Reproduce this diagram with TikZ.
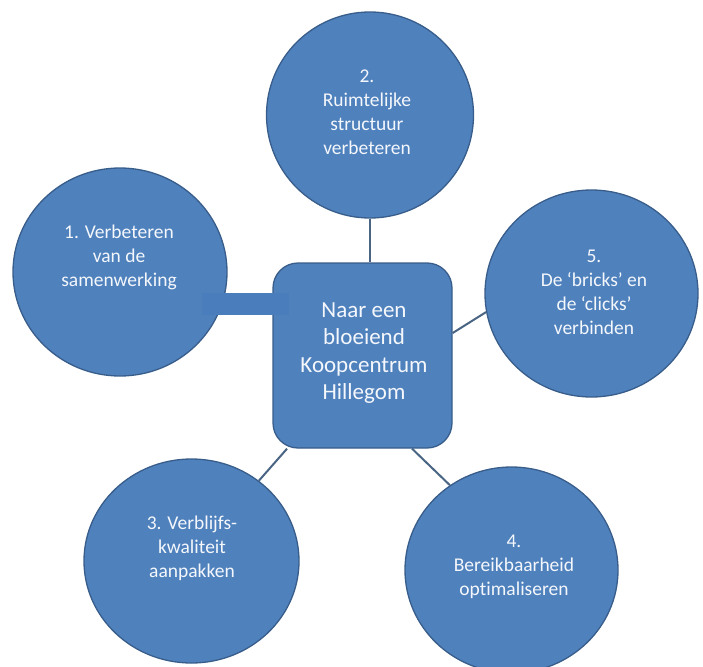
\documentclass[tikz,border=0pt]{standalone}
\usepackage{fontspec}
\setmainfont{Carlito}[Ligatures=NoCommon]
\usetikzlibrary{shapes.geometric,backgrounds}
\definecolor{shapeblue}{HTML}{4F81BD}
\definecolor{shapeedge}{HTML}{385D8A}
\definecolor{barblue}{HTML}{4A7DBB}
\definecolor{linkcol}{HTML}{4A6583}
\definecolor{txtcol}{HTML}{F4F7FB}
\tikzset{
  bubble/.style={ellipse, draw=shapeedge, line width=1.3pt, fill=shapeblue, inner sep=0pt},
  hub/.style={rectangle, rounded corners=25pt, draw=shapeedge, line width=1.3pt, fill=shapeblue, inner sep=0pt, minimum width=179pt, minimum height=185pt},
  bubbletext/.style={align=center, text=txtcol, font=\fontsize{19.5}{24}\selectfont, inner sep=0pt},
  hubtext/.style={align=center, text=txtcol, font=\fontsize{23}{27.4}\selectfont, inner sep=0pt},
  link/.style={draw=linkcol, line width=2pt},
  barstyle/.style={rectangle, fill=barblue, draw=none, inner sep=0pt, minimum width=87pt, minimum height=22pt}
}
\begin{document}
\begin{tikzpicture}[x=1pt,y=-1pt]
\useasboundingbox (0,0) rectangle (703,666);
\clip (0,0) rectangle (703,666);
% shapes
\node[hub] (sq) at (362.5,355.5) {};
\node[bubble, minimum width=214pt, minimum height=208pt] (c1) at (120,272) {};
\node[bubble, minimum width=207pt, minimum height=206pt] (c2) at (370,115) {};
\node[bubble, minimum width=215pt, minimum height=204pt] (c3) at (191.5,561) {};
\node[bubble, minimum width=213pt, minimum height=206pt] (c4) at (511.5,570) {};
\node[bubble, minimum width=213pt, minimum height=207pt] (c5) at (591.5,293.5) {};
% connectors behind the shapes
\begin{pgfonlayer}{background}
\draw[link] (c2.south) -- (c2.south |- sq.north);
\draw[link] (sq.14.7) -- (c5.190.6);
\draw[link] (sq.231.6) -- (c3.50);
\draw[link] (sq.298.6) -- (c4.126.5);
\end{pgfonlayer}
% bar connecting circle 1 and hub
\node[barstyle] (bar) at (245.5,304) {};
% texts
\node[hubtext] (tsq) at (364,353) {Naar een\\bloeiend\\Koopcentrum\\Hillegom};
\node[bubbletext] (t1) at (119,257) {1. Verbeteren\\van de\\samenwerking};
\node[bubbletext] (t2) at (367,112) {2.\\Ruimtelijke\\structuur\\verbeteren};
\node[bubbletext] (t3) at (192,548) {3. Verblijfs-\\kwaliteit\\aanpakken};
\node[bubbletext] (t4) at (514,567) {4.\\Bereikbaarheid\\optimaliseren};
\node[bubbletext] (t5) at (594,292) {5.\\De ‘bricks’ en\\de ‘clicks’\\verbinden};
\end{tikzpicture}
\end{document}
